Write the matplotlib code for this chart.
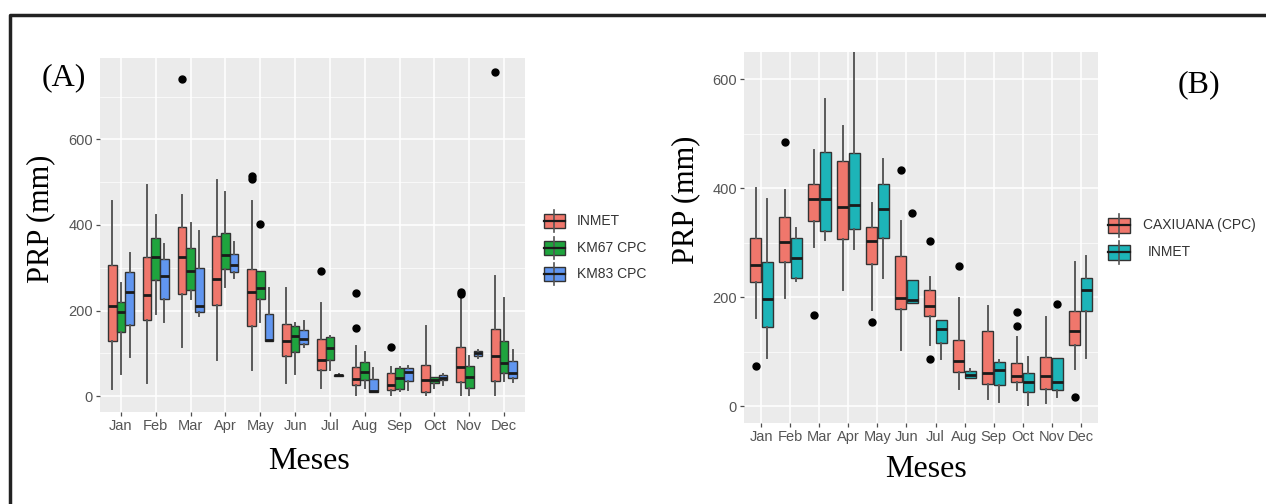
import matplotlib
matplotlib.use("Agg")
import matplotlib.pyplot as plt
from matplotlib.patches import Rectangle
from matplotlib.lines import Line2D

months = ["Jan", "Feb", "Mar", "Apr", "May", "Jun", "Jul", "Aug", "Sep", "Oct", "Nov", "Dec"]

# ---------------- Panel A ----------------
a_inmet_lo = [16, 31, 116, 85, 60, 30, 20, 2, 2, 2, 2, 2]
a_inmet_q1 = [128, 177, 239, 213, 165, 93, 60, 26, 14, 10, 34, 36]
a_inmet_med = [210, 236, 324, 273, 244, 129, 85, 39, 26, 38, 67, 94]
a_inmet_q3 = [306, 326, 396, 375, 298, 169, 133, 67, 53, 73, 116, 157]
a_inmet_hi = [457, 494, 471, 504, 455, 253, 218, 118, 69, 163, 234, 281]
a_inmet_out = [[], [], [742], [], [515, 508], [], [293], [242, 159], [116], [], [243, 238], [758]]

a_km67_lo = [52, 191, 227, 256, 173, 52, 61, 20, 13, 20, 2, 36]
a_km67_q1 = [151, 271, 248, 298, 226, 104, 85, 38, 16, 30, 20, 55]
a_km67_med = [196, 324, 293, 330, 252, 141, 112, 57, 42, 38, 45, 78]
a_km67_q3 = [220, 369, 347, 381, 293, 163, 138, 79, 65, 45, 71, 130]
a_km67_hi = [265, 424, 405, 477, 293, 170, 140, 104, 69, 45, 93, 230]
a_km67_out = [[], [], [], [], [402], [], [], [], [], [], [], []]

a_km83_lo = [92, 173, 187, 277, 128, 116, 47, 10, 14, 26, 89, 34]
a_km83_q1 = [166, 226, 197, 290, 128, 122, 48, 10, 36, 38, 93, 42]
a_km83_med = [243, 281, 210, 306, 132, 134, 49, 13, 57, 43, 100, 55]
a_km83_q3 = [290, 320, 299, 333, 193, 154, 50, 39, 65, 49, 106, 81]
a_km83_hi = [334, 355, 385, 361, 252, 175, 51, 65, 71, 52, 108, 108]
a_km83_out = [[] for _ in range(12)]

a_labels = ["INMET", "KM67 CPC", "KM83 CPC"]
a_colors = ["#F0776C", "#1FA43E", "#6196F0"]

# ---------------- Panel B ----------------
b_cax_lo = [161, 199, 292, 213, 176, 103, 112, 31, 13, 29, 5, 69]
b_cax_q1 = [227, 265, 340, 306, 260, 179, 166, 63, 40, 45, 31, 112]
b_cax_med = [259, 302, 381, 365, 303, 198, 184, 83, 60, 56, 56, 138]
b_cax_q3 = [309, 347, 407, 450, 329, 275, 213, 121, 138, 80, 91, 175]
b_cax_hi = [401, 396, 470, 514, 372, 339, 237, 198, 184, 127, 164, 265]
b_cax_out = [[74], [485], [168], [], [154], [434], [303, 86], [257], [], [172, 147], [], [17]]

b_inmet_lo = [89, 229, 305, 288, 235, 190, 87, 51, 7, 2, 17, 89]
b_inmet_q1 = [146, 236, 322, 326, 308, 190, 115, 52, 39, 26, 29, 175]
b_inmet_med = [196, 272, 381, 370, 361, 194, 141, 58, 66, 45, 45, 214]
b_inmet_q3 = [264, 309, 467, 465, 407, 232, 158, 64, 81, 60, 89, 236]
b_inmet_hi = [380, 327, 563, 660, 454, 232, 158, 69, 84, 91, 89, 275]
b_inmet_out = [[], [], [], [], [], [355], [], [], [], [], [187], []]

b_labels = ["CAXIUANA (CPC)", "INMET"]
b_colors = ["#F0776C", "#1DB4B8"]

W, H = 1266, 504
fig = plt.figure(figsize=(W / 100, H / 100), dpi=100)
fig.patch.set_facecolor("white")


def fx(px):
    return px / W


def fy(py):
    return 1 - py / H


def make_stats(lo, q1, med, q3, hi, out):
    return [dict(whislo=lo[i], q1=q1[i], med=med[i], q3=q3[i], whishi=hi[i], fliers=out[i])
            for i in range(len(lo))]


def style_axes(ax, ylim, yminor):
    ax.set_facecolor("#EBEBEB")
    for s in ax.spines.values():
        s.set_visible(False)
    ax.set_xlim(0.4, 12.6)
    ax.set_ylim(*ylim)
    ax.set_xticks(range(1, 13))
    ax.set_xticklabels(months)
    ax.set_yticks([0, 200, 400, 600])
    ax.set_yticks(yminor, minor=True)
    ax.grid(which="major", color="white", lw=1.1)
    ax.grid(which="minor", axis="y", color="white", lw=0.5)
    ax.set_axisbelow(True)
    ax.tick_params(which="major", length=3, width=0.9, color="#4D4D4D", labelcolor="#555555",
                   labelsize=10.5, pad=2)
    ax.tick_params(which="minor", length=0)
    for t in ax.get_xticklabels() + ax.get_yticklabels():
        t.set_family("Liberation Sans")


def draw_series(ax, stats, offset, width, color):
    pos = [m + 1 + offset for m in range(12)]
    ax.bxp(stats, positions=pos, widths=width, patch_artist=True, showcaps=False,
           boxprops=dict(facecolor=color, edgecolor="#333333", lw=1.0),
           whiskerprops=dict(color="#5A5A5A", lw=1.4),
           medianprops=dict(color="#1A1A1A", lw=2.0),
           flierprops=dict(marker="o", markerfacecolor="black", markeredgecolor="black",
                           markersize=5, linestyle="none"),
           manage_ticks=False)


# Panel A
axA = fig.add_axes([fx(100), fy(412), 425 / W, 354 / H])
style_axes(axA, (-37, 790), [100, 300, 500, 700])
a_stats = [make_stats(a_inmet_lo, a_inmet_q1, a_inmet_med, a_inmet_q3, a_inmet_hi, a_inmet_out),
           make_stats(a_km67_lo, a_km67_q1, a_km67_med, a_km67_q3, a_km67_hi, a_km67_out),
           make_stats(a_km83_lo, a_km83_q1, a_km83_med, a_km83_q3, a_km83_hi, a_km83_out)]
for k, (st, col) in enumerate(zip(a_stats, a_colors)):
    draw_series(axA, st, (k - 1) * 0.25, 0.25, col)

# Panel B
axB = fig.add_axes([fx(744), fy(423), 354 / W, 371 / H])
style_axes(axB, (-31, 650), [100, 300, 500])
b_stats = [make_stats(b_cax_lo, b_cax_q1, b_cax_med, b_cax_q3, b_cax_hi, b_cax_out),
           make_stats(b_inmet_lo, b_inmet_q1, b_inmet_med, b_inmet_q3, b_inmet_hi, b_inmet_out)]
for k, (st, col) in enumerate(zip(b_stats, b_colors)):
    draw_series(axB, st, (k - 0.5) * 0.4, 0.38, col)

serif = "Liberation Serif"
# axis titles
fig.text(fx(41), fy(219), "PRP (mm)", family=serif, size=22, rotation=90, ha="center", va="center")
fig.text(fx(309), fy(469), "Meses", family=serif, size=23, ha="center", va="baseline")
fig.text(fx(686), fy(200), "PRP (mm)", family=serif, size=22, rotation=90, ha="center", va="center")
fig.text(fx(926), fy(477), "Meses", family=serif, size=23, ha="center", va="baseline")
fig.text(fx(64), fy(78), "(A)", family=serif, size=23, ha="center", va="center")
fig.text(fx(1199), fy(85), "(B)", family=serif, size=23, ha="center", va="center")


# legends (boxplot-style keys)
def draw_key(cx, cy, color, bw, bh, wl):
    fig.add_artist(Line2D([fx(cx), fx(cx)], [fy(cy - bh / 2 - wl), fy(cy + bh / 2 + wl)],
                          color="#555555", lw=1.2))
    fig.add_artist(Rectangle((fx(cx - bw / 2), fy(cy + bh / 2)), bw / W, bh / H,
                             facecolor=color, edgecolor="#333333", lw=1.0,
                             transform=fig.transFigure))
    fig.add_artist(Line2D([fx(cx - bw / 2), fx(cx + bw / 2)], [fy(cy), fy(cy)],
                          color="#1A1A1A", lw=1.6))


for i, (lab, col) in enumerate(zip(a_labels, a_colors)):
    cy = 221 + i * 26.5
    draw_key(554, cy, col, 21, 14, 4)
    fig.text(fx(577), fy(cy), lab, family="Liberation Sans", size=10, color="#333333",
             ha="left", va="center")

b_text_x = [1143, 1148]
for i, (lab, col) in enumerate(zip(b_labels, b_colors)):
    cy = 225 + i * 27
    draw_key(1119, cy, col, 22, 15, 4)
    fig.text(fx(b_text_x[i]), fy(cy), lab, family="Liberation Sans", size=10, color="#333333",
             ha="left", va="center")

# outer frame
fig.add_artist(Line2D([fx(10), fx(10), 1.0], [0, fy(15), fy(15)], color="#222222", lw=2.5))

fig.savefig("out.png", dpi=100)
